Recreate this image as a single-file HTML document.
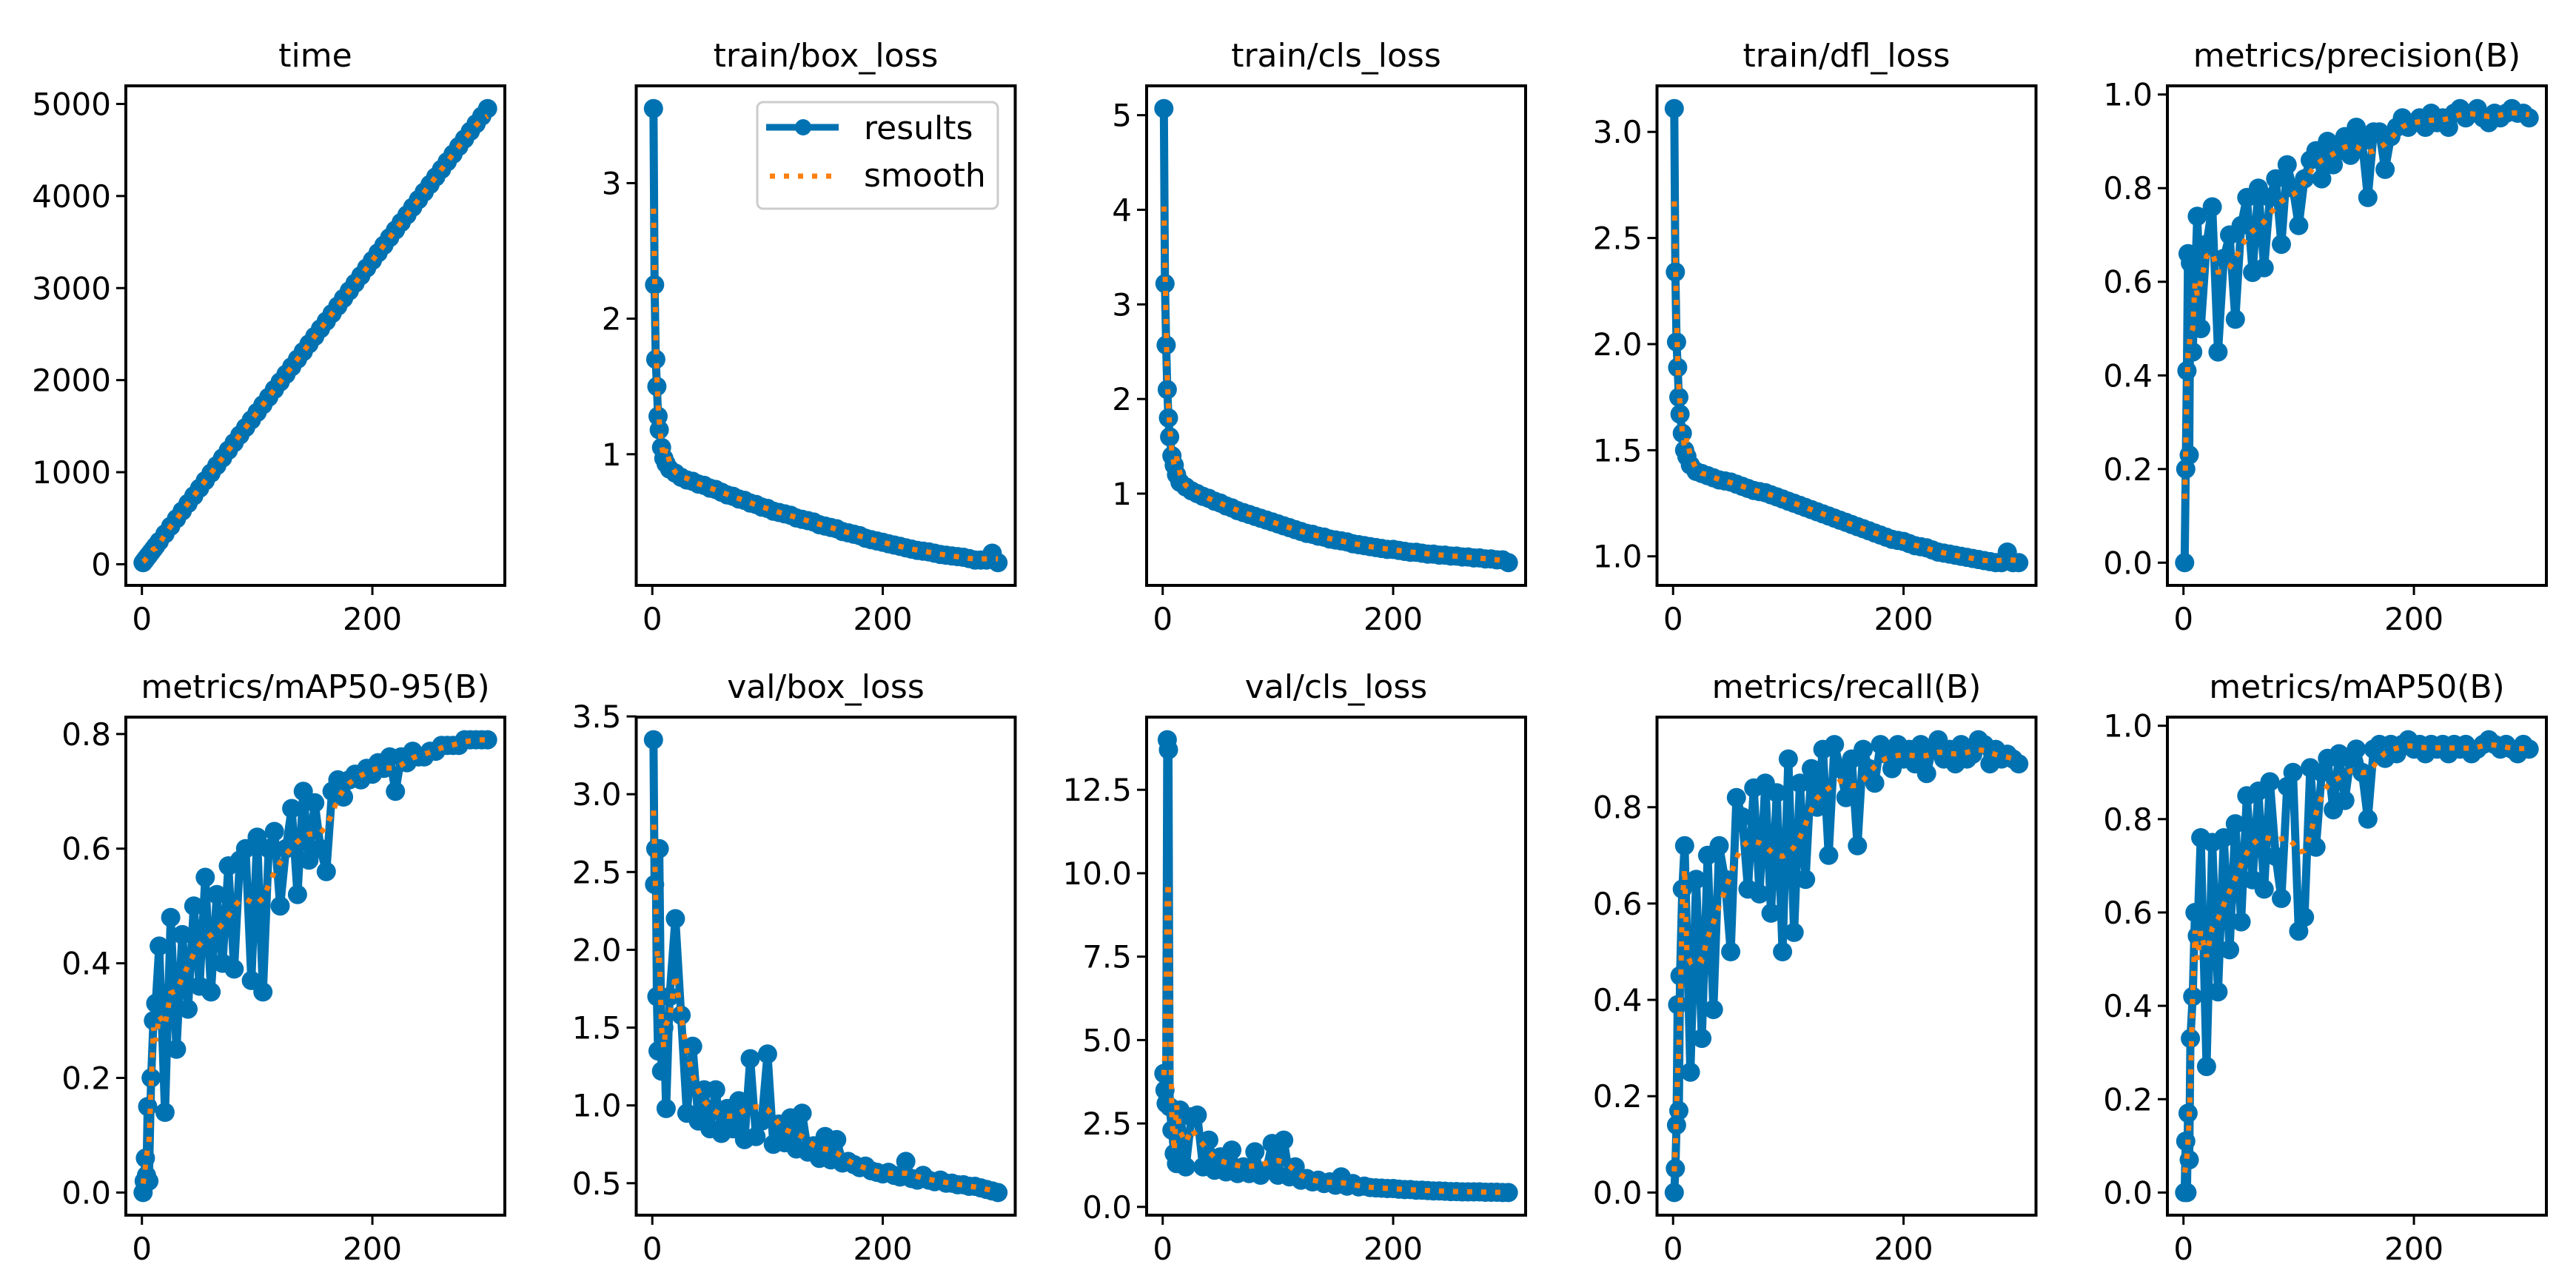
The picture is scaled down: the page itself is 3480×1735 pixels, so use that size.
<!DOCTYPE html>
<html><head><meta charset="utf-8"><title>results</title>
<style>
html,body{margin:0;padding:0;background:#fff;}
svg{display:block;font-family:"DejaVu Sans","Liberation Sans",sans-serif;}
</style></head>
<body>
<svg id="fig" width="3480" height="1735" viewBox="0 0 3480 1735" xmlns="http://www.w3.org/2000/svg">
<rect width="3480" height="1735" fill="#fff"/>
</svg>
<script>
const epochs=[1,2,3,4,5,6,8,10,12,15,20,25,30,35,40,45,50,55,60,65,70,75,80,85,90,95,100,105,110,115,120,125,130,135,140,145,150,155,160,165,170,175,180,185,190,195,200,205,210,215,220,225,230,235,240,245,250,255,260,265,270,275,280,285,290,295,300];
const titles=["time","train/box_loss","train/cls_loss","train/dfl_loss","metrics/precision(B)","metrics/mAP50-95(B)","val/box_loss","val/cls_loss","metrics/recall(B)","metrics/mAP50(B)"];
const timeVals=[17,33,50,66,83,99,132,165,198,248,330,413,495,578,660,743,825,908,990,1073,1155,1238,1320,1403,1485,1568,1650,1733,1815,1898,1980,2063,2145,2228,2310,2393,2475,2558,2640,2723,2805,2888,2970,3053,3135,3218,3300,3383,3465,3548,3630,3713,3795,3878,3960,4043,4125,4208,4290,4373,4455,4538,4620,4703,4785,4868,4950];
const trainBox=[3.55,2.25,1.7,1.5,1.28,1.18,1.05,0.97,0.93,0.89,0.86,0.83,0.81,0.8,0.78,0.77,0.75,0.74,0.72,0.7,0.69,0.67,0.66,0.64,0.63,0.61,0.6,0.58,0.57,0.56,0.55,0.53,0.52,0.51,0.5,0.48,0.47,0.46,0.45,0.43,0.42,0.41,0.4,0.38,0.37,0.36,0.35,0.34,0.33,0.32,0.31,0.3,0.29,0.285,0.28,0.27,0.26,0.255,0.25,0.245,0.24,0.23,0.22,0.22,0.22,0.27,0.2];
const trainCls=[5.07,3.22,2.57,2.1,1.8,1.6,1.4,1.3,1.2,1.12,1.07,1.03,1.0,0.97,0.95,0.92,0.9,0.87,0.85,0.82,0.8,0.78,0.76,0.74,0.72,0.7,0.68,0.66,0.64,0.62,0.6,0.58,0.57,0.55,0.54,0.52,0.51,0.5,0.49,0.47,0.46,0.45,0.44,0.43,0.42,0.41,0.41,0.4,0.39,0.38,0.38,0.37,0.36,0.36,0.35,0.35,0.34,0.34,0.33,0.33,0.32,0.32,0.31,0.31,0.3,0.3,0.27];
const trainDfl=[3.11,2.34,2.01,1.89,1.75,1.67,1.58,1.5,1.47,1.43,1.4,1.39,1.38,1.37,1.36,1.355,1.35,1.34,1.33,1.32,1.31,1.305,1.3,1.29,1.28,1.27,1.26,1.25,1.24,1.23,1.22,1.21,1.2,1.19,1.18,1.17,1.16,1.15,1.14,1.13,1.12,1.11,1.1,1.09,1.08,1.075,1.07,1.06,1.05,1.045,1.04,1.03,1.02,1.015,1.01,1.005,1.0,0.995,0.99,0.985,0.98,0.975,0.97,0.97,1.02,0.97,0.97];
const precision=[0.0,0.2,0.41,0.66,0.23,0.64,0.45,0.6,0.74,0.5,0.68,0.76,0.45,0.65,0.7,0.52,0.72,0.78,0.62,0.8,0.63,0.78,0.82,0.68,0.85,0.8,0.72,0.82,0.86,0.88,0.82,0.9,0.85,0.88,0.91,0.87,0.93,0.9,0.78,0.92,0.92,0.84,0.91,0.93,0.95,0.93,0.94,0.95,0.93,0.96,0.94,0.95,0.93,0.96,0.97,0.95,0.96,0.97,0.95,0.94,0.96,0.95,0.96,0.97,0.96,0.96,0.95];
const map5095=[0.0,0.02,0.06,0.03,0.15,0.02,0.2,0.3,0.33,0.43,0.14,0.48,0.25,0.45,0.32,0.5,0.36,0.55,0.35,0.52,0.4,0.57,0.39,0.58,0.6,0.37,0.62,0.35,0.6,0.63,0.5,0.6,0.67,0.52,0.7,0.58,0.68,0.6,0.56,0.7,0.72,0.69,0.72,0.73,0.72,0.74,0.73,0.75,0.74,0.76,0.7,0.76,0.75,0.77,0.76,0.76,0.77,0.77,0.78,0.78,0.78,0.78,0.79,0.79,0.79,0.79,0.79];
const valBox=[3.35,2.42,2.65,1.7,1.35,2.65,1.22,1.5,0.98,1.7,2.2,1.58,0.95,1.38,0.9,1.1,0.85,1.1,0.82,0.98,0.85,1.03,0.78,1.3,0.8,0.9,1.33,0.75,0.88,0.76,0.92,0.72,0.95,0.7,0.74,0.66,0.8,0.65,0.78,0.63,0.64,0.62,0.6,0.61,0.58,0.57,0.56,0.57,0.55,0.54,0.64,0.53,0.52,0.55,0.52,0.51,0.52,0.5,0.5,0.49,0.49,0.48,0.48,0.47,0.46,0.45,0.44];
const valCls=[4.0,3.5,3.1,14.0,13.7,3.0,2.3,1.6,1.3,2.9,1.2,2.7,2.75,1.2,2.0,1.1,1.5,1.05,1.7,1.0,1.2,1.0,1.65,0.95,1.1,1.9,0.95,2.0,0.9,1.2,0.8,0.85,0.75,0.8,0.7,0.75,0.65,0.9,0.62,0.7,0.6,0.62,0.58,0.57,0.56,0.55,0.55,0.53,0.52,0.52,0.5,0.5,0.49,0.48,0.48,0.47,0.46,0.46,0.45,0.45,0.45,0.45,0.44,0.44,0.44,0.43,0.43];
const recall=[0.0,0.05,0.14,0.39,0.17,0.45,0.63,0.72,0.53,0.25,0.65,0.32,0.7,0.38,0.72,0.65,0.5,0.82,0.78,0.63,0.84,0.62,0.85,0.58,0.83,0.5,0.9,0.54,0.85,0.65,0.88,0.8,0.92,0.7,0.93,0.88,0.82,0.9,0.72,0.92,0.88,0.85,0.93,0.91,0.88,0.93,0.9,0.92,0.89,0.93,0.87,0.92,0.94,0.9,0.92,0.89,0.93,0.9,0.91,0.94,0.93,0.89,0.92,0.9,0.91,0.9,0.89];
const map50=[0.0,0.11,0.0,0.17,0.07,0.33,0.42,0.6,0.55,0.76,0.27,0.75,0.43,0.76,0.52,0.79,0.58,0.85,0.67,0.86,0.65,0.88,0.72,0.63,0.87,0.9,0.56,0.59,0.91,0.74,0.9,0.93,0.82,0.94,0.84,0.93,0.95,0.9,0.8,0.95,0.96,0.93,0.96,0.94,0.96,0.97,0.95,0.96,0.94,0.96,0.95,0.96,0.94,0.96,0.95,0.96,0.94,0.95,0.96,0.97,0.96,0.95,0.96,0.95,0.94,0.96,0.95];
const seriesList=[timeVals,trainBox,trainCls,trainDfl,precision,map5095,valBox,valCls,recall,map50];
const yTicks=[[0,1000,2000,3000,4000,5000],[1,2,3],[1,2,3,4,5],[1.0,1.5,2.0,2.5,3.0],[0.0,0.2,0.4,0.6,0.8,1.0],[0.0,0.2,0.4,0.6,0.8],[0.5,1.0,1.5,2.0,2.5,3.0,3.5],[0.0,2.5,5.0,7.5,10.0,12.5],[0.0,0.2,0.4,0.6,0.8],[0.0,0.2,0.4,0.6,0.8,1.0]];
const yTickLabels=[["0","1000","2000","3000","4000","5000"],["1","2","3"],["1","2","3","4","5"],["1.0","1.5","2.0","2.5","3.0"],["0.0","0.2","0.4","0.6","0.8","1.0"],["0.0","0.2","0.4","0.6","0.8"],["0.5","1.0","1.5","2.0","2.5","3.0","3.5"],["0.0","2.5","5.0","7.5","10.0","12.5"],["0.0","0.2","0.4","0.6","0.8"],["0.0","0.2","0.4","0.6","0.8","1.0"]];
const xTicks=[0,200];
const xTickLabels=["0","200"];

const NS="http://www.w3.org/2000/svg";
const fig=document.getElementById('fig');
const BLUE="#0072B2",ORANGE="#ff7f0e";
function mk(tag,attrs,parent){const e=document.createElementNS(NS,tag);for(const k in attrs)e.setAttribute(k,attrs[k]);(parent||fig).appendChild(e);return e;}
function smooth(vals){
  const out=[];
  for(let i=0;i<vals.length;i++){
    const sg=epochs[i]<12?1.2:(epochs[i]<30?4:8);
    let s=0,w=0;
    for(let k=0;k<vals.length;k++){const d=epochs[k]-epochs[i];if(Math.abs(d)>3*sg+1)continue;const ww=Math.exp(-(d*d)/(2*sg*sg));s+=vals[k]*ww;w+=ww;}
    out.push(s/w);
  }
  return out;
}
const AW=512,AH=[675,673],TOPS=[116,969];
titles.forEach((title,idx)=>{
  const row=Math.floor(idx/5),col=idx%5;
  const L=170+689.5*col,T=TOPS[row],W=AW,H=AH[row],B=T+H;
  const vals=seriesList[idx];
  const sm=smooth(vals);
  const g=mk('g',{});
  
  
  const xmin=Math.min(...epochs),xmax=Math.max(...epochs),xr=xmax-xmin;
  const x0=xmin-0.05*xr,x1=xmax+0.05*xr;
  const all=vals.concat(sm);
  const ymin=Math.min(...all),ymax=Math.max(...all),yr=ymax-ymin;
  const y0=ymin-0.05*yr,y1=ymax+0.05*yr;
  const sx=v=>L+(v-x0)/(x1-x0)*W;
  const sy=v=>B-(v-y0)/(y1-y0)*H;
  const t=mk('text',{x:L+W/2,y:T-26,'text-anchor':'middle','font-size':44,fill:'#000'},g);
  t.textContent=title;
  
  
  const clip=mk('clipPath',{id:'c'+idx},g);
  mk('rect',{x:L,y:T,width:W,height:H},clip);
  const data=mk('g',{'clip-path':'url(#c'+idx+')'},g);
  const pts=epochs.map((e,i)=>sx(e).toFixed(1)+','+sy(vals[i]).toFixed(1)).join(' ');
  const line=mk('polyline',{points:pts,fill:'none',stroke:BLUE,'stroke-width':11,'stroke-linejoin':'round'},data);
  
  
  epochs.forEach((e,i)=>{
    const c=mk('circle',{cx:sx(e).toFixed(1),cy:sy(vals[i]).toFixed(1),r:13,fill:BLUE},data);
    
    
  });
  const spts=epochs.map((e,i)=>sx(e).toFixed(1)+','+sy(sm[i]).toFixed(1)).join(' ');
  const sl=mk('polyline',{points:spts,fill:'none',stroke:ORANGE,'stroke-width':7,'stroke-dasharray':'7 12'},data);
  
  
  const frame=mk('rect',{x:L,y:T,width:W,height:H,fill:'none',stroke:'#000','stroke-width':4},g);
  
  
  yTicks[idx].forEach((v,i)=>{
    const y=sy(v);
    mk('line',{x1:L-13,x2:L,y1:y,y2:y,stroke:'#000','stroke-width':3},g);
    const tl=mk('text',{x:L-20,y:y+15,'text-anchor':'end','font-size':42,fill:'#000'},g);
    tl.textContent=yTickLabels[idx][i];
    
    
  });
  xTicks.forEach((v,i)=>{
    const x=sx(v);
    mk('line',{x1:x,x2:x,y1:B,y2:B+13,stroke:'#000','stroke-width':3},g);
    const tl=mk('text',{x:x,y:B+60,'text-anchor':'middle','font-size':42,fill:'#000'},g);
    tl.textContent=xTickLabels[i];
    
    
  });
  if(idx===1){
    const lg=mk('g',{},g);
    
    
    mk('rect',{x:1023,y:138,width:325,height:144,rx:8,fill:'#fff',stroke:'#ccc','stroke-width':3},lg);
    mk('line',{x1:1035,x2:1133,y1:172,y2:172,stroke:BLUE,'stroke-width':9},lg);
    mk('circle',{cx:1085,cy:172,r:11,fill:BLUE},lg);
    mk('line',{x1:1040,x2:1133,y1:238,y2:238,stroke:ORANGE,'stroke-width':7,'stroke-dasharray':'7 12'},lg);
    const r1=mk('text',{x:1167,y:188,'font-size':44,fill:'#000'},lg);r1.textContent='results';
    
    
    const r2=mk('text',{x:1167,y:252,'font-size':44,fill:'#000'},lg);r2.textContent='smooth';
    
    
  }
});
</script>
</body></html>
